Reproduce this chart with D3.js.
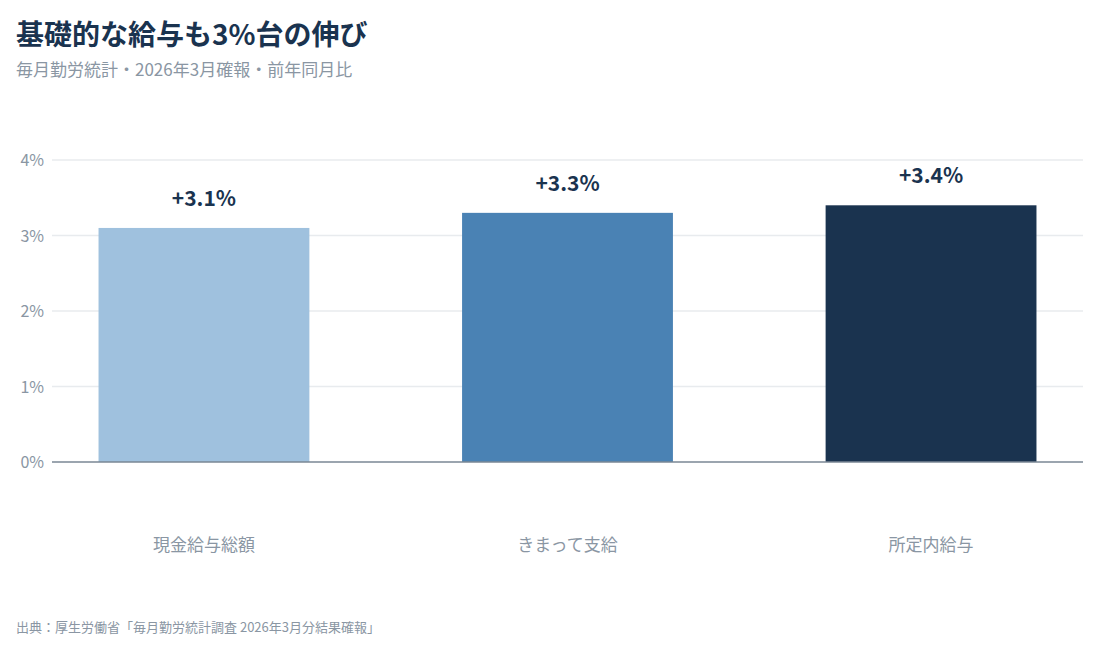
<!DOCTYPE html>
<html><head><meta charset="utf-8">
<script src="https://cdn.jsdelivr.net/npm/d3@7"></script>
<style>body{margin:0;background:#fff;font-family:"Noto Sans CJK JP","Noto Sans",sans-serif;}</style>
</head><body><svg id="c" width="1098" height="649"></svg>
<script>
const categories = ["現金給与総額","きまって支給","所定内給与"];
const values = [3.1, 3.3, 3.4];
const colors = ["#9fc1de","#4a82b4","#1a334f"];
const yTicks = [0,1,2,3,4];

const svg = d3.select("#c");
const x = d3.scaleBand().domain(categories).range([52,1083]).paddingInner(0.42).paddingOuter(0.128);
const y = d3.scaleLinear().domain([0,4]).range([462,160]);

svg.append("text").attr("x",16).attr("y",45).attr("font-size",28).attr("font-weight",700).attr("fill","#1a334f").text("基礎的な給与も3%台の伸び");
svg.append("text").attr("x",16).attr("y",76).attr("font-size",17).attr("fill","#8a96a3").text("毎月勤労統計・2026年3月確報・前年同月比");

const g = svg.append("g");
g.selectAll(".grid").data(yTicks.filter(d=>d>0)).join("line")
 .attr("x1",52).attr("x2",1083).attr("y1",d=>y(d)).attr("y2",d=>y(d)).attr("stroke","#e8ebee").attr("stroke-width",1.5);
g.selectAll(".yl").data(yTicks).join("text").attr("x",44).attr("y",d=>y(d)+6).attr("text-anchor","end")
 .attr("font-size",16).attr("fill","#8a96a3").text(d=>d+"%");
g.selectAll("rect").data(values).join("rect")
 .attr("x",(d,i)=>x(categories[i])).attr("width",x.bandwidth())
 .attr("y",d=>y(d)).attr("height",d=>y(0)-y(d)).attr("fill",(d,i)=>colors[i]);
g.append("line").attr("x1",52).attr("x2",1083).attr("y1",y(0)).attr("y2",y(0)).attr("stroke","#7a8794").attr("stroke-width",1.5);
g.selectAll(".vl").data(values).join("text")
 .attr("x",(d,i)=>x(categories[i])+x.bandwidth()/2).attr("y",d=>y(d)-22).attr("text-anchor","middle")
 .attr("font-size",21).attr("font-weight",700).attr("fill","#1a334f").text(d=>"+"+d.toFixed(1)+"%");
g.selectAll(".xl").data(categories).join("text")
 .attr("x",d=>x(d)+x.bandwidth()/2).attr("y",551).attr("text-anchor","middle")
 .attr("font-size",17).attr("fill","#8a96a3").text(d=>d);
svg.append("text").attr("x",16).attr("y",632).attr("font-size",13).attr("fill","#8a96a3").text("出典：厚生労働省「毎月勤労統計調査 2026年3月分結果確報」");
</script></body></html>
